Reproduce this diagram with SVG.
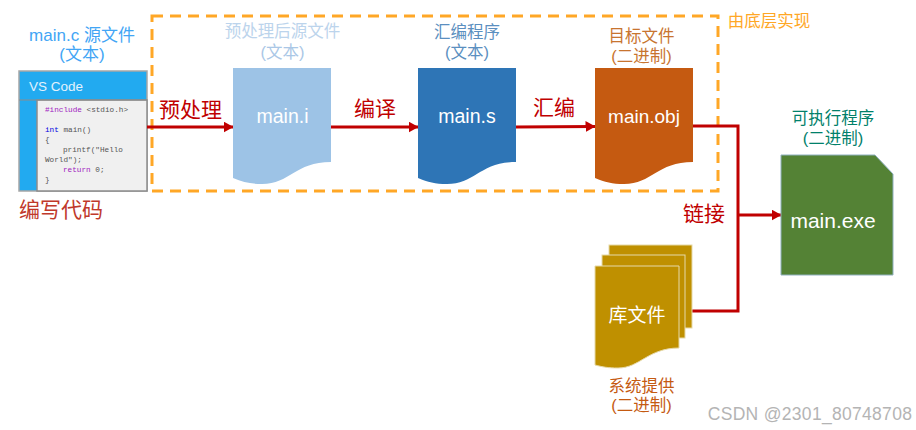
<svg xmlns="http://www.w3.org/2000/svg" width="916" height="430" viewBox="0 0 916 430">
<style>
text{font-family:"Liberation Sans","Noto Sans CJK SC",sans-serif;text-anchor:middle}
.cap{font-size:16.500px}
.op{font-size:21px;fill:#c00000}
.name{font-size:19.500px;fill:#fff}
.code{font-family:"Liberation Mono","DejaVu Sans Mono",monospace;font-size:7.7px;text-anchor:start;fill:#555}
.wire{fill:none;stroke:#c00000;stroke-width:3}
.sheet{stroke:#e6d9a8;stroke-width:1}
</style>
<defs>
<marker id="ah" viewBox="0 0 10 10" refX="9.500" refY="5" markerWidth="10" markerHeight="11" markerUnits="userSpaceOnUse" orient="auto" preserveAspectRatio="none"><path d="M0 0L10 5L0 10Z" fill="#c00000"/></marker>
</defs>
<rect width="916" height="430" fill="#fff"/>
<g id="boundary">
<rect x="152" y="16" width="566" height="175" fill="none" stroke="#ffa726" stroke-width="3" stroke-dasharray="11 7"/>
<text x="769" y="27" class="cap" style="fill:#ffa726">由底层实现</text>
</g>
<g id="vscode">
<text x="82" y="41" class="cap" style="fill:#42a5f5;font-size:17px">main.c 源文件</text>
<text x="82" y="60" class="cap" style="fill:#42a5f5;font-size:17px">(文本)</text>
<rect x="19" y="71" width="128" height="120" fill="#22aaf0" stroke="#a6a6a6" stroke-width="1.500"/>
<rect x="37" y="100" width="110" height="91" fill="#f0f0f0" stroke="#8c8c8c" stroke-width="1.500"/>
<line x1="19" y1="100" x2="147" y2="100" stroke="#8c8c8c" stroke-width="1"/>
<text x="29" y="91" font-size="13.500" fill="#e3f2fd" style="text-anchor:start">VS Code</text>
<text x="45" y="112" class="code"><tspan fill="#a020c0">#include</tspan> &lt;stdio.h&gt;</text>
<text x="45" y="132" class="code"><tspan fill="#0000e0">int</tspan> main()</text>
<text x="45" y="142" class="code">{</text>
<text x="63" y="152" class="code">printf("Hello</text>
<text x="45" y="162" class="code">World");</text>
<text x="63" y="172" class="code"><tspan fill="#a020c0">return</tspan> 0;</text>
<text x="45" y="182" class="code">}</text>
<text x="61" y="217" font-size="21" fill="#c0392b">编写代码</text>
</g>
<g id="connectors">
<line class="wire" x1="147" y1="127" x2="233" y2="127" marker-end="url(#ah)"/>
<line class="wire" x1="331" y1="127" x2="418" y2="127" marker-end="url(#ah)"/>
<line class="wire" x1="516" y1="127" x2="595" y2="126.500" marker-end="url(#ah)"/>
<path class="wire" d="M693 126H738V311H692"/>
<line class="wire" x1="738" y1="215" x2="781" y2="215" marker-end="url(#ah)"/>
<text x="190.500" y="117" class="op">预处理</text>
<text x="375" y="116" class="op">编译</text>
<text x="554" y="115" class="op">汇编</text>
<text x="704" y="221" class="op">链接</text>
</g>
<g id="main-i">
<text x="282.500" y="37" class="cap" style="fill:#bcd4ec">预处理后源文件</text>
<text x="282.500" y="58" class="cap" style="fill:#aac7e6">(文本)</text>
<path d="M233 68H331V162C295 162 290 184 262 184C250 184 243 182 233 178Z" fill="#9dc3e6"/>
<text x="282.500" y="123" class="name">main.i</text>
</g>
<g id="main-s">
<text x="467" y="38" class="cap" style="fill:#5b8fc0">汇编程序</text>
<text x="467" y="58" class="cap" style="fill:#5b8fc0">(文本)</text>
<path d="M418 68H516V162C480 162 475 184 447 184C435 184 428 182 418 178Z" fill="#2e75b6"/>
<text x="467" y="123" class="name">main.s</text>
</g>
<g id="main-obj">
<text x="641.500" y="42" class="cap" style="fill:#c8742f">目标文件</text>
<text x="641.500" y="62" class="cap" style="fill:#c8742f">(二进制)</text>
<path d="M595 68H693V162C657 162 652 184 624 184C612 184 605 182 595 178Z" fill="#c55a11"/>
<text x="644" y="123" class="name" style="font-size:19px">main.obj</text>
</g>
<g id="main-exe">
<text x="833" y="124" class="cap" style="fill:#00806a">可执行程序</text>
<text x="833" y="144" class="cap" style="fill:#00806a">(二进制)</text>
<path d="M781 155H875L893 174V275H781Z" fill="#548235" stroke="#8fb0c0" stroke-width="1"/>
<text x="833" y="228" class="name" style="font-size:21px">main.exe</text>
</g>
<g id="library">
<rect class="sheet" x="609" y="245" width="83" height="83" fill="#bf9000"/>
<rect class="sheet" x="602" y="255" width="83" height="83" fill="#bf9000"/>
<path class="sheet" d="M595 266H679V348C648 348 640 368 618 368C608 368 603 367 595 365Z" fill="#bf9000"/>
<text x="637" y="322" font-size="19" fill="#fff">库文件</text>
<text x="641.500" y="392" class="cap" style="fill:#c55a11">系统提供</text>
<text x="641.500" y="411" class="cap" style="fill:#c55a11">(二进制)</text>
</g>
<text id="watermark" x="810" y="420" font-size="17.500" fill="#b4b4b4" style="letter-spacing:.3px">CSDN @2301_80748708</text>
</svg>
